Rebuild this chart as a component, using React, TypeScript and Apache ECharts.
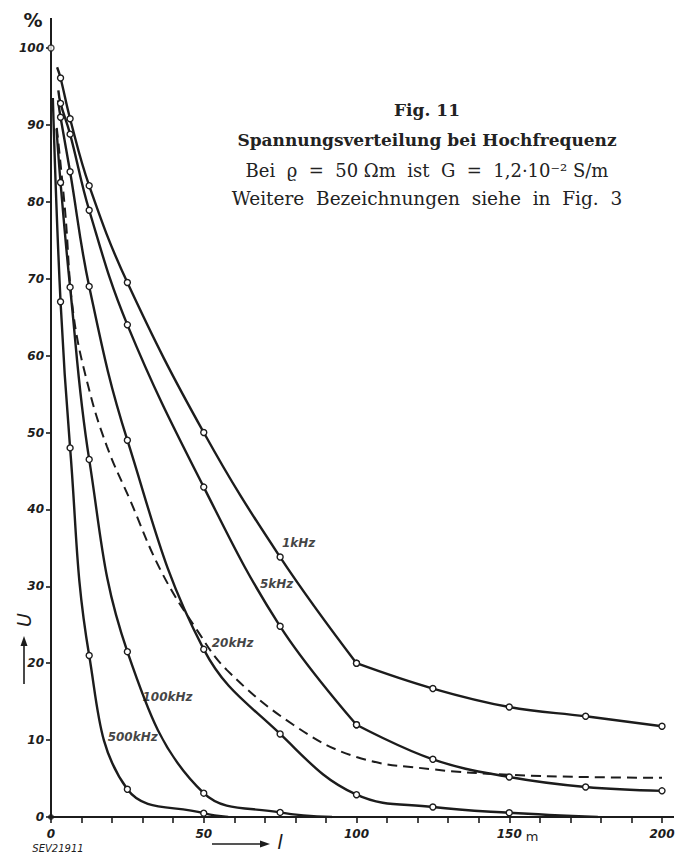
import React, { useEffect, useRef } from "react";
import * as echarts from "echarts";

// distances l (m) at which measured points are marked
const markerX = [3.125, 6.25, 12.5, 25, 50, 75, 100, 125, 150, 175, 200];
// U (%) at those distances
const u1kHz = [96.1, 90.8, 82.1, 69.5, 50, 33.8, 20, 16.7, 14.3, 13.1, 11.8];
const u5kHz = [92.8, 88.8, 78.9, 64, 42.9, 24.8, 12, 7.5, 5.2, 3.9, 3.4];
const u20kHz = [91, 83.9, 69, 49, 21.8, 10.8, 2.9, 1.3, 0.55];
const u100kHz = [82.5, 68.9, 46.5, 21.5, 3.1, 0.6];
const u500kHz = [67, 48, 21, 3.6, 0.5];
// unmarked start / end points of the drawn curves [l, U]
const start1kHz = [2.0, 97.5];
const start5kHz = [2.4, 94.5];
const start20kHz = [2.3, 93.2];
const start100kHz = [1.8, 89.5];
const start500kHz = [0.6, 93.5];
const end20kHz = [179, 0];
const end100kHz = [92, 0];
const end500kHz = [58, 0];
// dashed curve (no markers)
const dashedX = [1.9, 4.6, 7.3, 12.2, 18.3, 25.9, 36, 47.8, 57.6, 79.3, 100, 125, 150, 175, 200];
const dashedU = [89.6, 78.9, 65.5, 56, 48.2, 41.2, 32, 24.3, 19.1, 12, 7.8, 6.2, 5.5, 5.2, 5.1];
// curve labels
const curveLabels = ["1kHz", "5kHz", "20kHz", "100kHz", "500kHz"];
const labelX = [81.2, 74, 59.6, 38.3, 26.9];
const labelU = [35.6, 30.2, 22.6, 15.6, 10.4];
// axis ranges
const X_MIN = 0, X_MAX = 200, X_STEP = 10, X_LABEL_STEP = 50;
const Y_MIN = 0, Y_MAX = 100, Y_STEP = 10;

const INK = "#1c1c1c";
const HAND = "'DejaVu Sans', sans-serif";
const SERIF = "'DejaVu Serif', serif";

type Pt = number[];

function pts(ys: number[], from = 0, to = ys.length): any[] {
  const out: any[] = [];
  for (let i = from; i < to; i++) out.push([markerX[i], ys[i]]);
  return out;
}
function plain(p: Pt) {
  return { value: p, symbol: "none" };
}

function lineSeries(name: string, data: any[], dashed = false): any {
  return {
    name,
    type: "line",
    data,
    smooth: 0.4,
    symbol: dashed ? "none" : "circle",
    symbolSize: 6,
    showSymbol: true,
    lineStyle: {
      color: INK,
      width: dashed ? 2 : 2.4,
      type: dashed ? [10, 6] : "solid",
    },
    itemStyle: { color: "#ffffff", borderColor: INK, borderWidth: 1.4 },
    emphasis: { disabled: true },
    z: dashed ? 2 : 3,
  };
}

export default function App() {
  const ref = useRef<HTMLDivElement>(null);
  useEffect(() => {
    if (!ref.current) return;
    const chart = echarts.init(ref.current, undefined, { renderer: "svg" });
    const kink = markerX.indexOf(100);
    const series: any[] = [
      lineSeries("1kHz", [plain(start1kHz), ...pts(u1kHz, 0, kink + 1)]),
      lineSeries("1kHz", pts(u1kHz, kink)),
      lineSeries("5kHz", [plain(start5kHz), ...pts(u5kHz, 0, kink + 1)]),
      lineSeries("5kHz", pts(u5kHz, kink)),
      lineSeries("20kHz", [plain(start20kHz), ...pts(u20kHz), plain(end20kHz)]),
      lineSeries("100kHz", [plain(start100kHz), ...pts(u100kHz), plain(end100kHz)]),
      lineSeries("500kHz", [plain(start500kHz), ...pts(u500kHz), plain(end500kHz)]),
      lineSeries("dashed", dashedX.map((x, i) => [x, dashedU[i]]), true),
      {
        type: "scatter",
        data: [
          { value: [0, 100], symbol: "circle", itemStyle: { color: "#fff", borderColor: INK, borderWidth: 1.4 } },
          { value: [0, 0], symbol: "circle", itemStyle: { color: INK } },
        ],
        symbolSize: 6,
        z: 5,
        emphasis: { disabled: true },
      },
      {
        type: "scatter",
        data: curveLabels.map((n, i) => ({ name: n, value: [labelX[i], labelU[i]] })),
        symbol: "circle",
        symbolSize: 1,
        itemStyle: { color: "rgba(255,255,255,0)" },
        label: {
          show: true,
          position: [0, 0],
          align: "center",
          verticalAlign: "middle",
          formatter: "{b}",
          color: "#111",
          fontFamily: HAND,
          fontStyle: "italic",
          fontWeight: "bold",
          fontSize: 12,
        },
        emphasis: { disabled: true },
        z: 6,
      },
    ];

    const title = (text: string, y: number, bold: boolean, size: number) => ({
      type: "text",
      x: 427,
      y,
      style: {
        text,
        fontSize: size,
        fontWeight: bold ? "bold" : "normal",
        fontFamily: SERIF,
        fill: "#222",
        align: "center",
        verticalAlign: "middle",
      },
    });

    chart.setOption({
      animation: false,
      backgroundColor: "#ffffff",
      grid: { left: 51, right: 26, top: 48, bottom: 38, containLabel: false },
      xAxis: {
        type: "value",
        min: X_MIN,
        max: X_MAX,
        interval: X_STEP,
        axisLine: { show: true, onZero: false, lineStyle: { color: INK, width: 2 } },
        axisTick: { show: true, inside: false, length: 6, lineStyle: { color: INK, width: 1.6 } },
        splitLine: { show: false },
        axisLabel: {
          color: INK,
          fontFamily: HAND,
          fontStyle: "italic",
          fontWeight: "bold",
          fontSize: 12,
          margin: 11,
          formatter: (v: number) => (v % X_LABEL_STEP === 0 ? String(v) : ""),
        },
      },
      yAxis: {
        type: "value",
        min: Y_MIN,
        max: Y_MAX,
        interval: Y_STEP,
        axisLine: { show: true, onZero: false, lineStyle: { color: INK, width: 2 } },
        axisTick: { show: true, inside: false, length: 5, lineStyle: { color: INK, width: 1.6 } },
        splitLine: { show: false },
        axisLabel: {
          color: INK,
          fontFamily: HAND,
          fontStyle: "italic",
          fontWeight: "bold",
          fontSize: 12,
          margin: 7,
        },
      },
      graphic: [
        // axis extensions
        { type: "line", shape: { x1: 51, y1: 48, x2: 51, y2: 18 }, style: { stroke: INK, lineWidth: 2 } },
        { type: "line", shape: { x1: 662, y1: 817, x2: 674, y2: 817 }, style: { stroke: INK, lineWidth: 2 } },
        { type: "text", x: 33, y: 20, style: { text: "%", fontSize: 19, fontWeight: "bold", fontFamily: HAND, fill: INK, align: "center", verticalAlign: "middle" } },
        { type: "text", x: 532, y: 836, style: { text: "m", fontSize: 13, fontFamily: HAND, fill: INK, align: "center", verticalAlign: "middle" } },
        { type: "text", x: 58, y: 848, style: { text: "SEV21911", fontSize: 10, fontStyle: "italic", fontFamily: HAND, fill: INK, align: "center", verticalAlign: "middle" } },
        // l arrow
        { type: "line", shape: { x1: 212, y1: 844, x2: 262, y2: 844 }, style: { stroke: INK, lineWidth: 1.6 } },
        { type: "polygon", shape: { points: [[260, 840.5], [270, 844], [260, 847.5]] }, style: { fill: INK } },
        { type: "text", x: 280, y: 842, style: { text: "l", fontSize: 20, fontStyle: "italic", fontFamily: HAND, fill: INK, align: "center", verticalAlign: "middle" } },
        // U arrow
        { type: "line", shape: { x1: 24, y1: 684, x2: 24, y2: 644 }, style: { stroke: INK, lineWidth: 1.6 } },
        { type: "polygon", shape: { points: [[20.5, 646], [24, 636], [27.5, 646]] }, style: { fill: INK } },
        { type: "text", x: 24, y: 620, rotation: Math.PI / 2, style: { text: "U", fontSize: 19, fontStyle: "italic", fontFamily: HAND, fill: INK, align: "center", verticalAlign: "middle" } },
        // title block
        title("Fig. 11", 110, true, 17),
        title("Spannungsverteilung bei Hochfrequenz", 140, true, 17),
        title("Bei  ϱ  =  50 Ωm  ist  G  =  1,2·10⁻² S/m", 170, false, 18),
        title("Weitere  Bezeichnungen  siehe  in  Fig.  3", 198, false, 18.5),
      ],
      series,
    });
    return () => chart.dispose();
  }, []);
  return (
    <div
      ref={ref}
      style={{ position: "fixed", left: 0, top: 0, width: 688, height: 855, background: "#fff" }}
    />
  );
}
